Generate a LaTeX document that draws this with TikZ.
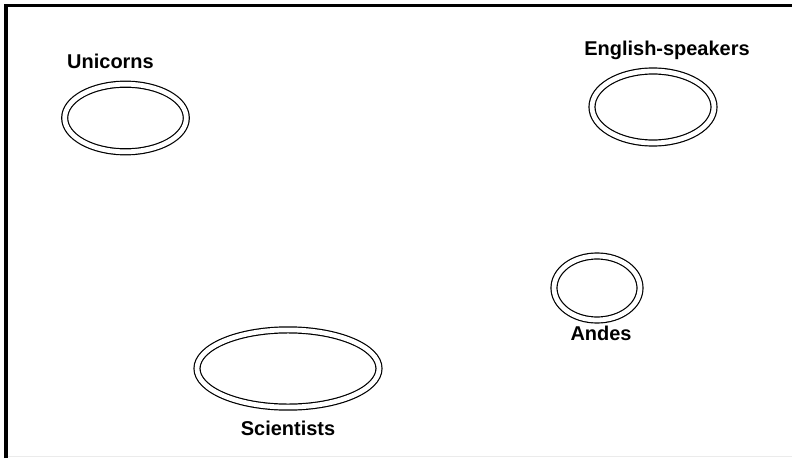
\documentclass[tikz,border=0pt]{standalone}
\usepackage{fontspec}
\setmainfont{Liberation Sans}
\usetikzlibrary{shapes,positioning}

\begin{document}
\begin{tikzpicture}[
    grp/.style={ellipse, draw, line width=0.85pt, double, double distance=3.4pt, inner sep=0pt},
    grplabel/.style={font=\fontsize{14.2}{16}\selectfont\bfseries, anchor=base, inner sep=0pt}
]
    \useasboundingbox (0,0) rectangle (19.8,11.45);

    % Frame
    \draw[line width=2.5pt] (0.15,0) -- (0.15,11.3125) -- (19.8,11.3125);
    \draw[black!8, line width=0.5pt] (0.2,0.05) -- (19.8,0.05);

    % Sets
    \node[grp, minimum width=3.04cm, minimum height=1.69cm] (unicorns) at (3.1375,8.5) {};
    \node[grp, minimum width=3.05cm, minimum height=1.8cm] (english) at (16.325,8.775) {};
    \node[grp, minimum width=2.15cm, minimum height=1.6cm] (andes) at (14.925,4.25) {};
    \node[grp, minimum width=4.55cm, minimum height=1.93cm] (scientists) at (7.2,2.2375) {};

    % Labels
    \node[grplabel] (unicornslbl) at (2.7625,9.725) {Unicorns};
    \node[grplabel] (englishlbl) at (16.675,10.06) {English-speakers};
    \node[grplabel] (andeslbl) at (15.025,2.95) {Andes};
    \node[grplabel] (scientistslbl) at (7.2,0.575) {Scientists};
\end{tikzpicture}
\end{document}
